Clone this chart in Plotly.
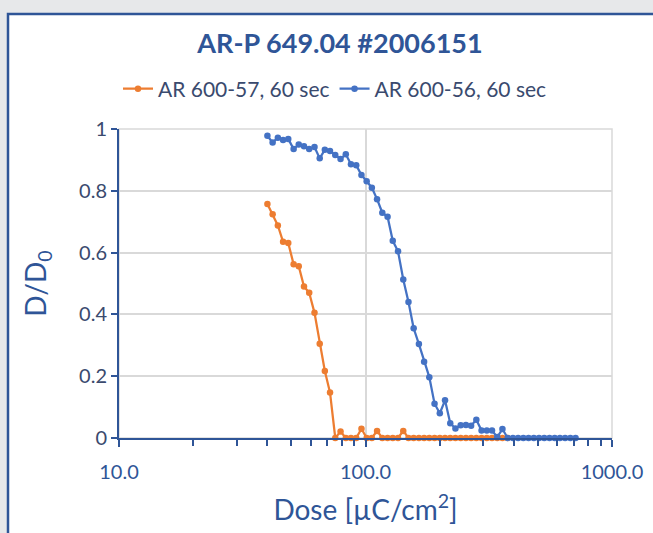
import plotly.graph_objects as go

# ---- data ----
dose = [40.0, 42.0, 44.1, 46.3, 48.6, 51.1, 53.6, 56.3, 59.1, 62.1,
        65.2, 68.4, 71.8, 75.4, 79.2, 83.2, 87.3, 91.7, 96.3, 101.1,
        106.1, 111.4, 117.0, 122.9, 129.0, 135.5, 142.3, 149.4, 156.8, 164.7,
        172.9, 181.5, 190.6, 200.2, 210.2, 220.7, 231.7, 243.3, 255.5, 268.2,
        281.6, 295.7, 310.5, 326.0, 342.3, 359.4, 377.4, 396.3, 416.1, 436.9,
        458.8, 481.7, 505.8, 531.1, 557.6, 585.5, 614.8, 645.5, 677.8, 711.7]

ar_600_57 = [0.757, 0.724, 0.688, 0.635, 0.631, 0.562, 0.556, 0.490, 0.470, 0.405,
             0.305, 0.217, 0.147, 0.0, 0.021, 0.0, 0.0, 0.0, 0.030, 0.0,
             0.0, 0.023, 0.0, 0.0, 0.0, 0.0, 0.023, 0.0, 0.0, 0.0,
             0.0, 0.0, 0.0, 0.0, 0.0, 0.0, 0.0, 0.0, 0.0, 0.0,
             0.0, 0.0, 0.0, 0.0, 0.0, 0.0, 0.0]

ar_600_56 = [0.978, 0.956, 0.972, 0.964, 0.968, 0.935, 0.950, 0.944, 0.935, 0.942,
             0.905, 0.933, 0.929, 0.916, 0.903, 0.918, 0.886, 0.883, 0.851, 0.831,
             0.810, 0.773, 0.729, 0.716, 0.638, 0.604, 0.513, 0.440, 0.355, 0.304,
             0.247, 0.197, 0.111, 0.080, 0.122, 0.048, 0.031, 0.041, 0.042, 0.040,
             0.059, 0.024, 0.024, 0.024, 0.003, 0.029, 0.0, 0.0, 0.0, 0.0,
             0.0, 0.0, 0.0, 0.0, 0.0, 0.0, 0.0, 0.0, 0.0, 0.0]

series_names = ["AR 600-57, 60 sec", "AR 600-56, 60 sec"]
x_tick_vals = [10, 100, 1000]
x_tick_text = ["10.0", "100.0", "1000.0"]
x_minor_ticks = [20, 30, 40, 50, 60, 70, 80, 90, 200, 300, 400, 500, 600, 700, 800, 900]
y_tick_vals = [0, 0.2, 0.4, 0.6, 0.8, 1]
y_tick_text = ["0", "0.2", "0.4", "0.6", "0.8", "1"]

# ---- style ----
ORANGE = "#ED7D31"
BLUE = "#4472C4"
DARK = "#2F5597"
GRID = "#D9D9D9"
TXT = "#3A4A6E"
FONT = "Lato"

W, H = 653, 533
L, R, T, B = 119, 41, 129, 95
pw, ph = W - L - R, H - T - B

def px_x(p):
    return (p - L) / pw

def px_y(p):
    return 1 + (T - p) / ph

fig = go.Figure()
fig.add_trace(go.Scatter(
    x=dose[:len(ar_600_57)], y=ar_600_57, name=series_names[0],
    mode="lines+markers", line=dict(color=ORANGE, width=2.25),
    marker=dict(color=ORANGE, size=6.5), cliponaxis=False))
fig.add_trace(go.Scatter(
    x=dose[:len(ar_600_56)], y=ar_600_56, name=series_names[1],
    mode="lines+markers", line=dict(color=BLUE, width=2.25),
    marker=dict(color=BLUE, size=6.5), cliponaxis=False))

# white chart panel with blue frame on a grey page
fig.add_shape(type="rect", xref="paper", yref="paper",
              x0=px_x(8), x1=px_x(670), y0=px_y(550), y1=px_y(14),
              fillcolor="white", line=dict(color=DARK, width=2.5), layer="below")
# light frame of the plot area (top gridline at 1, right gridline at 1000)
fig.add_shape(type="rect", xref="paper", yref="paper", x0=0, x1=1, y0=0, y1=1,
              line=dict(color=GRID, width=1.5), layer="below")

fig.update_layout(
    width=W, height=H,
    margin=dict(l=L, r=R, t=T, b=B, autoexpand=False),
    paper_bgcolor="#E7E8EA", plot_bgcolor="rgba(0,0,0,0)",
    font=dict(family=FONT, color=DARK),
    title=dict(text="<b>AR-P 649.04 #2006151</b>", x=340 / W, xref="container",
               xanchor="center", y=1 - 44 / H, yref="container", yanchor="middle",
               font=dict(size=27, color=DARK, family=FONT)),
    legend=dict(orientation="h", x=px_x(335), xanchor="center",
                y=px_y(89), yanchor="middle", font=dict(size=21, color=TXT),
                bgcolor="rgba(0,0,0,0)", itemwidth=30),
    showlegend=True,
)

fig.update_xaxes(
    type="log", range=[1, 3],
    tickvals=x_tick_vals, ticktext=x_tick_text,
    ticks="outside", ticklen=7, tickwidth=2, tickcolor=DARK,
    showline=True, linecolor=DARK, linewidth=2,
    showgrid=True, gridcolor=GRID, gridwidth=1.5,
    zeroline=False, automargin=False,
    ticklabelstandoff=8,
    tickfont=dict(size=20, color=DARK, family=FONT),
    title=dict(text="Dose [µC/cm<sup>2</sup>]", font=dict(size=28, color=DARK, family=FONT), standoff=18),
    minor=dict(tickmode="array", tickvals=x_minor_ticks, ticks="outside", ticklen=6,
               tickwidth=2, tickcolor=DARK, showgrid=False),
)
fig.update_yaxes(
    range=[0, 1],
    tickvals=y_tick_vals, ticktext=y_tick_text,
    ticks="outside", ticklen=6, tickwidth=2, tickcolor=DARK,
    showline=True, linecolor=DARK, linewidth=2,
    showgrid=True, gridcolor=GRID, gridwidth=1.5,
    zeroline=False, automargin=False,
    tickfont=dict(size=20, color=TXT, family=FONT),
    title=dict(text="D/D<sub>0</sub>", font=dict(size=28, color=DARK, family=FONT), standoff=24),
)

fig.write_html("out.html", config={"displayModeBar": False},
               post_script="document.body.style.margin='0';document.body.style.overflow='hidden';")
